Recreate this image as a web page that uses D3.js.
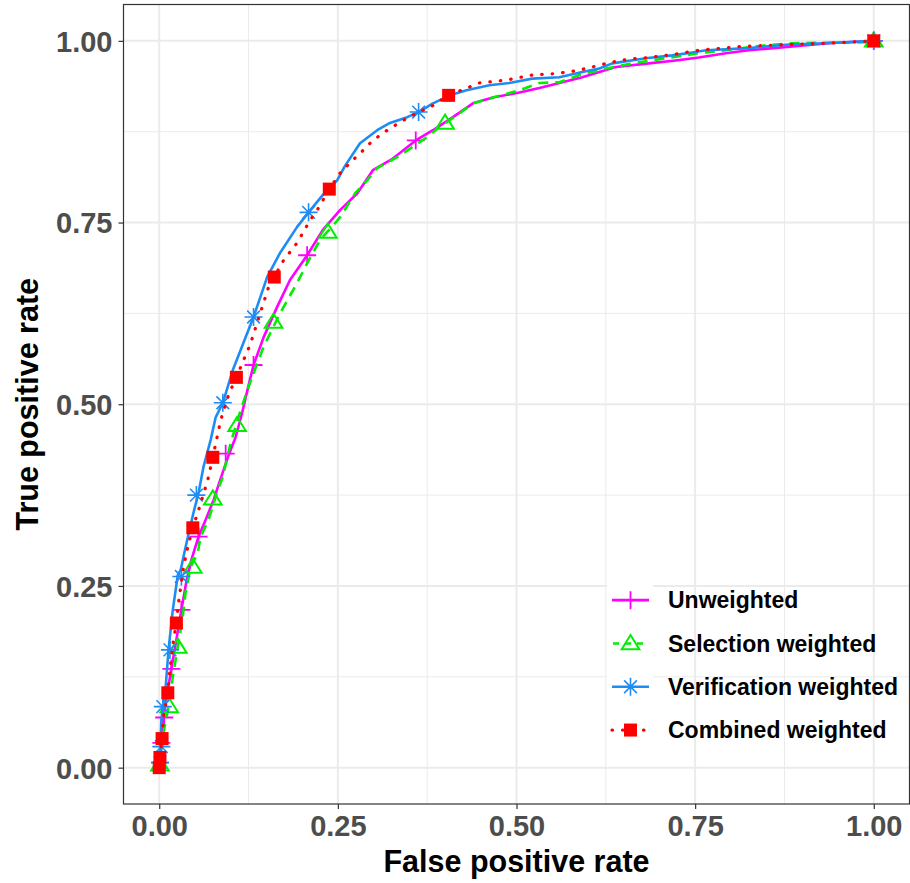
<!DOCTYPE html>
<html>
<head>
<meta charset="utf-8">
<script src="https://cdn.jsdelivr.net/npm/d3@7"></script>
<style>
  html, body { margin: 0; padding: 0; background: #ffffff; }
  svg { display: block; }
</style>
</head>
<body>
<svg id="chart" width="910" height="883"></svg>
<script>
// ---------------- DATA ----------------
const seriesNames = ["Unweighted", "Selection weighted", "Verification weighted", "Combined weighted"];
const xTicks = [0, 0.25, 0.5, 0.75, 1];
const yTicks = [0, 0.25, 0.5, 0.75, 1];
const xTickLabels = ["0.00", "0.25", "0.50", "0.75", "1.00"];
const yTickLabels = ["0.00", "0.25", "0.50", "0.75", "1.00"];

const unweightedFpr = [0,0.001,0.002,0.006,0.012,0.017,0.024,0.031,0.038,0.045,0.055,0.065,0.076,0.083,0.096,0.107,0.116,0.125,0.132,0.146,0.165,0.183,0.207,0.229,0.253,0.277,0.299,0.327,0.359,0.383,0.411,0.439,0.467,0.504,0.532,0.560,0.592,0.616,0.639,0.685,0.723,0.755,0.793,0.825,0.871,0.941,1];
const unweightedTpr = [0,0.011,0.034,0.069,0.107,0.136,0.176,0.217,0.256,0.286,0.318,0.341,0.368,0.389,0.427,0.455,0.488,0.526,0.554,0.592,0.634,0.671,0.705,0.740,0.767,0.790,0.822,0.838,0.863,0.877,0.895,0.914,0.922,0.929,0.935,0.942,0.950,0.957,0.964,0.969,0.973,0.977,0.983,0.987,0.991,0.997,1];
const unweightedMarkFpr = [0.001,0.003,0.007,0.017,0.031,0.055,0.093,0.132,0.207,0.359,1];
const unweightedMarkTpr = [0.007,0.034,0.069,0.136,0.217,0.318,0.432,0.554,0.705,0.863,1];

const selectionFpr = [0,0.002,0.006,0.013,0.019,0.027,0.033,0.037,0.044,0.054,0.058,0.069,0.082,0.089,0.100,0.114,0.125,0.146,0.169,0.193,0.207,0.225,0.253,0.274,0.291,0.305,0.333,0.347,0.374,0.392,0.420,0.439,0.467,0.504,0.532,0.560,0.588,0.626,0.662,0.709,0.755,0.801,0.849,0.895,0.988,1];
const selectionTpr = [0,0.021,0.048,0.084,0.125,0.172,0.208,0.242,0.276,0.296,0.318,0.341,0.382,0.400,0.447,0.492,0.524,0.579,0.625,0.667,0.694,0.726,0.757,0.790,0.808,0.825,0.840,0.849,0.867,0.881,0.900,0.914,0.922,0.932,0.942,0.943,0.953,0.962,0.969,0.976,0.983,0.988,0.994,0.997,0.998,1];
const selectionMarkFpr = [0.001,0.014,0.026,0.047,0.075,0.109,0.160,0.236,0.400,1];
const selectionMarkTpr = [0.004,0.084,0.166,0.276,0.370,0.471,0.613,0.737,0.887,1];

const verificationFpr = [0,0.001,0.002,0.003,0.006,0.009,0.013,0.019,0.026,0.030,0.037,0.048,0.055,0.062,0.072,0.079,0.089,0.103,0.132,0.151,0.169,0.193,0.209,0.229,0.249,0.260,0.281,0.305,0.323,0.347,0.363,0.383,0.407,0.430,0.462,0.490,0.522,0.560,0.592,0.616,0.634,0.681,0.718,0.746,0.765,0.825,0.881,0.941,1];
const verificationTpr = [0,0.018,0.038,0.066,0.089,0.111,0.162,0.217,0.265,0.272,0.304,0.351,0.378,0.414,0.451,0.482,0.502,0.547,0.620,0.675,0.708,0.744,0.764,0.788,0.808,0.828,0.859,0.877,0.887,0.895,0.902,0.914,0.925,0.932,0.939,0.942,0.948,0.950,0.957,0.962,0.969,0.976,0.980,0.984,0.987,0.990,0.995,0.997,1];
const verificationMarkFpr = [0.001,0.003,0.005,0.015,0.031,0.052,0.089,0.132,0.209,0.363,1];
const verificationMarkTpr = [0.007,0.029,0.084,0.162,0.263,0.375,0.502,0.620,0.764,0.902,1];

const combinedFpr = [0,0.001,0.004,0.006,0.012,0.015,0.020,0.024,0.027,0.034,0.040,0.047,0.054,0.068,0.075,0.086,0.097,0.108,0.128,0.137,0.153,0.161,0.174,0.193,0.211,0.221,0.238,0.253,0.271,0.285,0.299,0.319,0.337,0.355,0.383,0.405,0.448,0.486,0.522,0.556,0.584,0.606,0.630,0.658,0.685,0.718,0.755,0.811,0.881,0.941,1];
const combinedTpr = [0,0.014,0.040,0.070,0.103,0.135,0.176,0.199,0.227,0.276,0.304,0.330,0.351,0.396,0.427,0.478,0.513,0.537,0.584,0.612,0.661,0.675,0.698,0.722,0.753,0.767,0.796,0.818,0.836,0.849,0.863,0.877,0.888,0.898,0.911,0.925,0.942,0.946,0.953,0.955,0.959,0.964,0.970,0.975,0.977,0.981,0.987,0.992,0.995,0.997,1];
const combinedMarkFpr = [0,0.001,0.004,0.012,0.024,0.047,0.075,0.108,0.161,0.238,0.405,1];
const combinedMarkTpr = [0,0.014,0.040,0.103,0.199,0.330,0.427,0.537,0.675,0.796,0.925,1];

// ---------------- LAYOUT / STYLE ----------------
const colors = ["#FF00FF", "#00EE00", "#1E8CF5", "#FF0000"];
const dashes = [null, "10,7", null, "2.5,8"];
const shapes = ["plus", "triangle", "asterisk", "square"];

const svg = d3.select("#chart");
const panel = { left: 123.5, right: 909.5, top: 4.5, bottom: 804 };

const x = d3.scaleLinear().domain([-0.05, 1.05]).range([panel.left, panel.right]);
const y = d3.scaleLinear().domain([-0.05, 1.05]).range([panel.bottom, panel.top]);

const fontFam = "'Liberation Sans', Arial, Helvetica, sans-serif";

// grid
const minorVals = [0.125, 0.375, 0.625, 0.875];
const g = svg.append("g");
g.selectAll("line.minx").data(minorVals).join("line")
  .attr("x1", d => x(d)).attr("x2", d => x(d)).attr("y1", panel.top).attr("y2", panel.bottom)
  .attr("stroke", "#EBEBEB").attr("stroke-width", 1);
g.selectAll("line.miny").data(minorVals).join("line")
  .attr("y1", d => y(d)).attr("y2", d => y(d)).attr("x1", panel.left).attr("x2", panel.right)
  .attr("stroke", "#EBEBEB").attr("stroke-width", 1);
g.selectAll("line.majx").data(xTicks).join("line")
  .attr("x1", d => x(d)).attr("x2", d => x(d)).attr("y1", panel.top).attr("y2", panel.bottom)
  .attr("stroke", "#EBEBEB").attr("stroke-width", 2);
g.selectAll("line.majy").data(yTicks).join("line")
  .attr("y1", d => y(d)).attr("y2", d => y(d)).attr("x1", panel.left).attr("x2", panel.right)
  .attr("stroke", "#EBEBEB").attr("stroke-width", 2);

// legend key backgrounds (cover grid)
const legendX = 607, legendKeyW = 46, legendRowH = 43.3, legendTop = 578.5;
svg.append("g").selectAll("rect").data(seriesNames).join("rect")
  .attr("x", legendX).attr("y", (d, i) => legendTop + i * legendRowH)
  .attr("width", legendKeyW).attr("height", legendRowH)
  .attr("fill", "#ffffff");

// axes
const xAxis = d3.axisBottom(x).tickValues(xTicks).tickFormat((d, i) => xTickLabels[i]).tickSize(5).tickPadding(6);
const yAxis = d3.axisLeft(y).tickValues(yTicks).tickFormat((d, i) => yTickLabels[i]).tickSize(5).tickPadding(6);

const gx = svg.append("g").attr("transform", `translate(0,${panel.bottom})`).call(xAxis);
const gy = svg.append("g").attr("transform", `translate(${panel.left},0)`).call(yAxis);
[gx, gy].forEach(ax => {
  ax.select(".domain").remove();
  ax.selectAll(".tick line").attr("stroke", "#333333").attr("stroke-width", 1.2);
  ax.selectAll(".tick text").attr("fill", "#4D4D4D").style("font-family", fontFam)
    .style("font-weight", "bold").style("font-size", "29px");
});
gx.selectAll(".tick text").attr("dy", "0.72em");
gy.selectAll(".tick text").attr("dy", "0.36em");

// curves
const seriesData = [
  { fpr: unweightedFpr, tpr: unweightedTpr, mf: unweightedMarkFpr, mt: unweightedMarkTpr },
  { fpr: selectionFpr, tpr: selectionTpr, mf: selectionMarkFpr, mt: selectionMarkTpr },
  { fpr: verificationFpr, tpr: verificationTpr, mf: verificationMarkFpr, mt: verificationMarkTpr },
  { fpr: combinedFpr, tpr: combinedTpr, mf: combinedMarkFpr, mt: combinedMarkTpr }
];

const line = d3.line().x(d => x(d[0])).y(d => y(d[1]));

function drawMarker(sel, shape, color, cx, cy) {
  if (shape === "plus") {
    const s = 9;
    sel.append("path").attr("d", `M${cx - s},${cy}H${cx + s}M${cx},${cy - s}V${cy + s}`)
      .attr("stroke", color).attr("stroke-width", 1.8).attr("fill", "none");
  } else if (shape === "triangle") {
    const s = 8.8;
    sel.append("path").attr("d", `M${cx},${cy - s * 0.95}L${cx + s},${cy + s * 0.65}L${cx - s},${cy + s * 0.65}Z`)
      .attr("stroke", color).attr("stroke-width", 2).attr("fill", "none");
  } else if (shape === "asterisk") {
    const s = 9, d = s * 0.707;
    sel.append("path").attr("d",
      `M${cx - s},${cy}H${cx + s}M${cx},${cy - s}V${cy + s}M${cx - d},${cy - d}L${cx + d},${cy + d}M${cx - d},${cy + d}L${cx + d},${cy - d}`)
      .attr("stroke", color).attr("stroke-width", 1.6).attr("fill", "none");
  } else if (shape === "square") {
    const s = 6.5;
    sel.append("rect").attr("x", cx - s).attr("y", cy - s).attr("width", 2 * s).attr("height", 2 * s)
      .attr("fill", color);
  }
}

svg.append("defs").append("clipPath").attr("id", "panelClip")
  .append("rect").attr("x", panel.left).attr("y", panel.top)
  .attr("width", panel.right - panel.left).attr("height", panel.bottom - panel.top);

const plotG = svg.append("g").attr("clip-path", "url(#panelClip)");
seriesData.forEach((s, i) => {
  const pts = s.fpr.map((f, k) => [f, s.tpr[k]]);
  const p = plotG.append("path").datum(pts).attr("d", line)
    .attr("fill", "none").attr("stroke", colors[i]).attr("stroke-width", 2.6)
    .attr("stroke-linejoin", "round");
  if (dashes[i]) p.attr("stroke-dasharray", dashes[i]);
  if (i === 3) p.attr("stroke-linecap", "round").attr("stroke-dasharray", "0.5,10").attr("stroke-width", 3.2);
  const mg = plotG.append("g");
  s.mf.forEach((f, k) => drawMarker(mg, shapes[i], colors[i], x(f), y(s.mt[k])));
});

// panel border
svg.append("rect").attr("x", panel.left).attr("y", panel.top)
  .attr("width", panel.right - panel.left).attr("height", panel.bottom - panel.top)
  .attr("fill", "none").attr("stroke", "#333333").attr("stroke-width", 1.2);

// axis titles
svg.append("text").attr("x", x(0.5)).attr("y", 872).attr("text-anchor", "middle")
  .style("font-family", fontFam).style("font-weight", "bold").style("font-size", "30.5px")
  .attr("fill", "#000").text("False positive rate");
svg.append("text").attr("transform", `translate(37.5,${y(0.5)}) rotate(-90)`).attr("text-anchor", "middle")
  .style("font-family", fontFam).style("font-weight", "bold").style("font-size", "30.5px")
  .attr("fill", "#000").text("True positive rate");

// legend
const lg = svg.append("g");
seriesNames.forEach((name, i) => {
  const cy = legendTop + i * legendRowH + legendRowH / 2;
  const x1 = legendX + 5, x2 = legendX + legendKeyW - 4, cx = (x1 + x2) / 2;
  const l = lg.append("line").attr("x1", x1).attr("x2", x2).attr("y1", cy).attr("y2", cy)
    .attr("stroke", colors[i]).attr("stroke-width", 2.6);
  if (i === 1) l.attr("stroke-dasharray", "6,6").attr("x1", x1 + 1);
  if (i === 3) l.attr("stroke-linecap", "round").attr("stroke-dasharray", "0.5,10").attr("stroke-width", 3.2);
  drawMarker(lg, shapes[i], colors[i], cx, cy);
  lg.append("text").attr("x", 668).attr("y", cy).attr("dy", "0.36em")
    .style("font-family", fontFam).style("font-weight", "bold").style("font-size", "23px")
    .attr("fill", "#000").text(name);
});
</script>
</body>
</html>
